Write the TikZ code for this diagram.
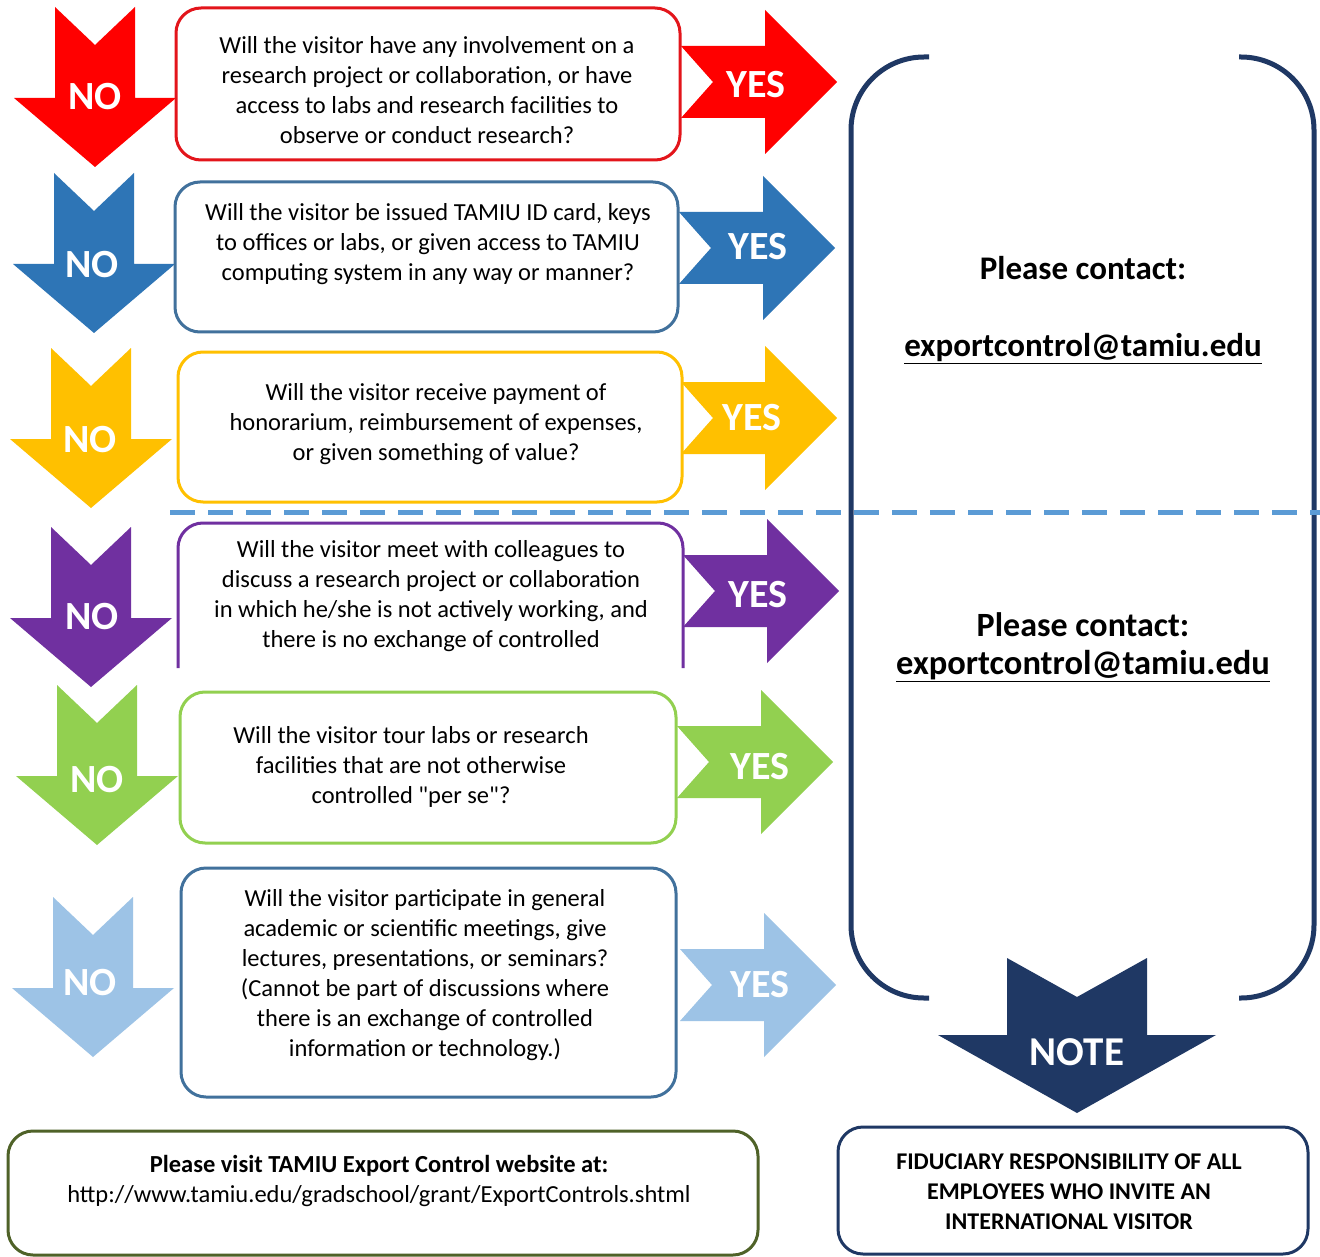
\documentclass[tikz,border=0pt]{standalone}
\usepackage{fontspec}
\setmainfont{Carlito}
\newfontfamily\carlitoplain{Carlito}[Ligatures=TeXOff]
\definecolor{cRed}{HTML}{FF0000}
\definecolor{cRedB}{HTML}{E3151B}
\definecolor{cBlue}{HTML}{2E75B6}
\definecolor{cSteel}{HTML}{41719C}
\definecolor{cYel}{HTML}{FFC000}
\definecolor{cPur}{HTML}{7030A0}
\definecolor{cGrn}{HTML}{92D050}
\definecolor{cLb}{HTML}{9DC3E6}
\definecolor{cNavy}{HTML}{1F3864}
\definecolor{cDash}{HTML}{5B9BD5}
\definecolor{cOlive}{HTML}{4F6228}
\newcommand{\yesarrow}[3]{\fill[#3] (#1,#2) ++(0,-36) -- ++(84,0) -- ++(0,-36) -- ++(72,72) -- ++(-72,72) -- ++(0,-36) -- ++(-84,0) -- ++(32,-36) -- cycle;}
\newcommand{\noarrow}[3]{\fill[#3] (#1,#2) ++(-40,0) -- ++(40,38) -- ++(40,-38) -- ++(0,91) -- ++(41,0) -- ++(-81,69) -- ++(-81,-69) -- ++(41,0) -- cycle;}
\begin{document}
\begin{tikzpicture}[x=1pt,y=-1pt,
  qbox/.style={draw, line width=3pt, rounded corners=25pt, inner sep=0pt},
  qtext/.style={font=\fontsize{24.5}{30}\selectfont, align=center, text=black, inner sep=0pt},
  bigw/.style={font=\bfseries\fontsize{40}{42}\selectfont, text=white, inner sep=0pt},
  contact/.style={font=\bfseries\fontsize{33}{36}\selectfont, text=black, inner sep=0pt},
  bracket/.style={draw=cNavy, line width=5pt, rounded corners=73pt}]
\useasboundingbox (0,0) rectangle (1320,1257);
\fill[white] (0,0) rectangle (1320,1257);

% NO arrows
\noarrow{95}{7}{cRed}
\noarrow{94}{173}{cBlue}
\noarrow{91}{348}{cYel}
\noarrow{91}{527}{cPur}
\noarrow{97}{685}{cGrn}
\noarrow{93}{897}{cLb}
\node[bigw] (no1) at (95,97) {NO};
\node[bigw] (no2) at (92,265) {NO};
\node[bigw] (no3) at (90,440) {NO};
\node[bigw] (no4) at (92,617) {NO};
\node[bigw] (no5) at (97,780) {NO};
\node[bigw] (no6) at (90,983) {NO};

% YES arrows
\yesarrow{681}{82}{cRed}
\yesarrow{679}{248}{cBlue}
\yesarrow{681}{418}{cYel}
\yesarrow{683}{591}{cPur}
\yesarrow{677}{762}{cGrn}
\yesarrow{680}{985}{cLb}
\node[bigw] (yes1) at (756,85) {YES};
\node[bigw] (yes2) at (758,247) {YES};
\node[bigw] (yes3) at (752,418) {YES};
\node[bigw] (yes4) at (758,595) {YES};
\node[bigw] (yes5) at (760,767) {YES};
\node[bigw] (yes6) at (760,985) {YES};

% question boxes
\node[qbox, draw=cRedB, minimum width=504pt, minimum height=152pt] (b1) at (428,84) {};
\node[qbox, draw=cSteel, minimum width=503pt, minimum height=150pt] (b2) at (426.5,257) {};
\node[qbox, draw=cYel, minimum width=504pt, minimum height=150pt] (b3) at (430,427) {};
\draw[line width=3pt, draw=cPur, rounded corners=25pt] (178,668) -- (178,523) -- (683,523) -- (683,668);
\node[qbox, draw=cGrn, minimum width=496pt, minimum height=151pt] (b5) at (428,767.5) {};
\node[qbox, draw=cSteel, minimum width=495pt, minimum height=229pt] (b6) at (428.5,982.5) {};

\node[qtext] (t1) at (427,90) {Will the visitor have any involvement on a\\research project or collaboration, or have\\access to labs and research facilities to\\observe or conduct research?};
\node[qtext] (t2) at (428,244) {Will the visitor be issued TAMIU ID card, keys\\to offices or labs, or given access to TAMIU\\computing system in any way or manner?};
\node[qtext] (t3) at (436,424) {Will the visitor receive payment of\\honorarium, reimbursement of expenses,\\or given something of value?};
\node[qtext] (t4) at (431,596) {Will the visitor meet with colleagues to\\discuss a research project or collaboration\\in which he/she is not actively working, and\\there is no exchange of controlled};
\node[qtext] (t5) at (411,767) {Will the visitor tour labs or research\\facilities that are not otherwise\\controlled {\carlitoplain"}per se{\carlitoplain"}?};
\node[qtext] (t6) at (425,975) {Will the visitor participate in general\\academic or scientific meetings, give\\lectures, presentations, or seminars?\\(Cannot be part of discussions where\\there is an exchange of controlled\\information or technology.)};

% bracket
\draw[bracket] (929,57) -- (851,57) -- (851,998) -- (929,998);
\draw[bracket] (1239,57) -- (1314,57) -- (1314,998) -- (1239,998);
\node[contact] (pc1) at (1083,268) {Please contact:};
\node[contact] (em1) at (1083,349) {\underline{exportcontrol@tamiu.edu}};
\node[contact, font=\bfseries\fontsize{34}{36}\selectfont] (pc2) at (1083,625) {Please contact:};
\node[contact, font=\bfseries\fontsize{34.5}{36}\selectfont] (em2) at (1083,666) {\underline{exportcontrol@tamiu.edu}};

% dashed separator
\draw[cDash, line width=5pt, dash pattern=on 25pt off 13pt] (170,512) -- (1320,512);

% NOTE arrow
\fill[cNavy] (1077,958) ++(-70,0) -- ++(70,39) -- ++(70,-39) -- ++(0,77) -- ++(69,0) -- ++(-139,78) -- ++(-139,-78) -- ++(69,0) -- cycle;
\node[bigw, font=\bfseries\fontsize{41}{44}\selectfont] (note) at (1077,1052) {NOTE};

% bottom boxes
\node[qbox, draw=cOlive, minimum width=750pt, minimum height=124pt] (bl) at (383,1193) {};
\node[qtext] (web) at (379,1181) {\textbf{Please visit TAMIU Export Control website at:}\\http://www.tamiu.edu/gradschool/grant/ExportControls.shtml};
\node[qbox, draw=cNavy, minimum width=470pt, minimum height=127pt] (br) at (1073,1190.5) {};
\node[qtext, font=\bfseries\fontsize{24}{30}\selectfont] (fid) at (1069,1192) {FIDUCIARY RESPONSIBILITY OF ALL\\EMPLOYEES WHO INVITE AN\\INTERNATIONAL VISITOR};
\end{tikzpicture}
\end{document}
